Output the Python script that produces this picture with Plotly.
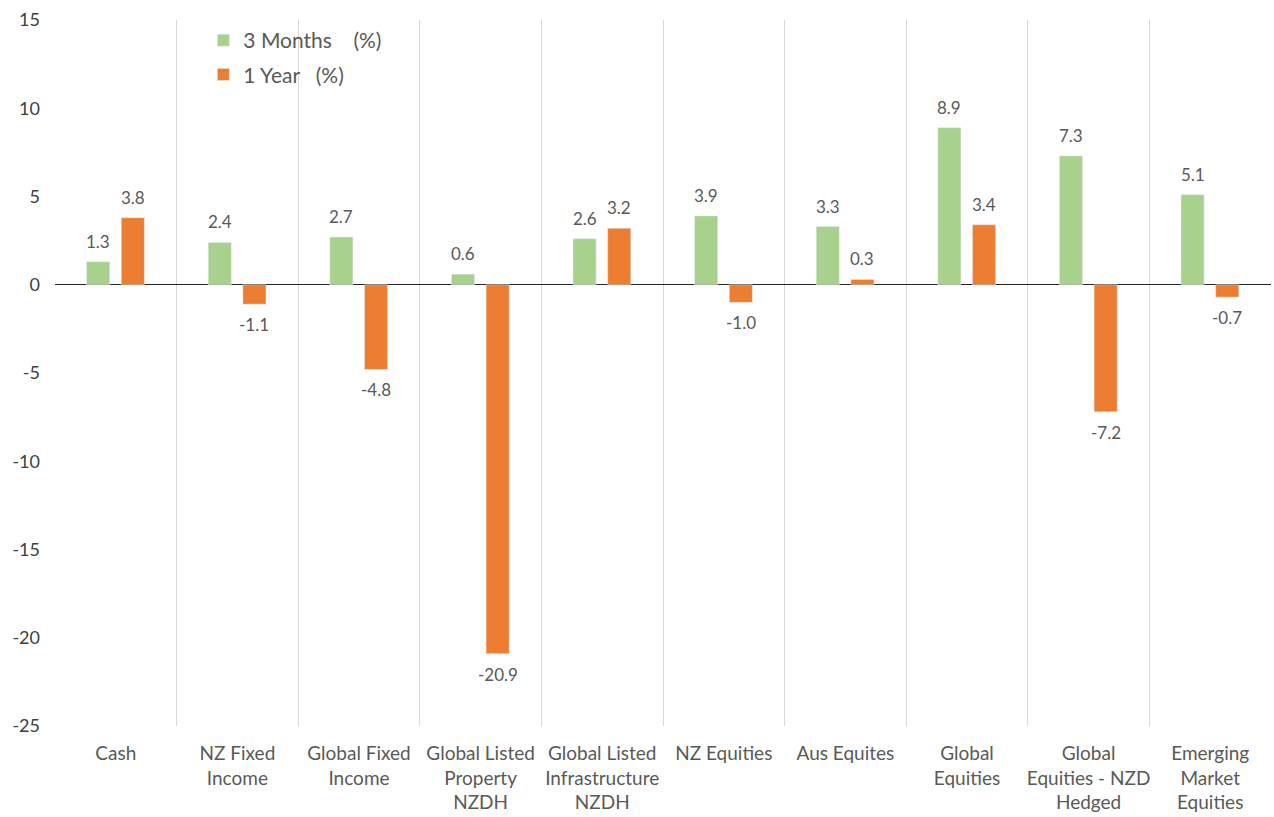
import plotly.graph_objects as go

categories = ["Cash", "NZ Fixed<br>Income", "Global Fixed<br>Income",
              "Global Listed<br>Property<br>NZDH", "Global Listed<br>Infrastructure<br>NZDH",
              "NZ Equities", "Aus Equites", "Global<br>Equities",
              "Global<br>Equities - NZD<br>Hedged", "Emerging<br>Market<br>Equities"]
three_months = [1.3, 2.4, 2.7, 0.6, 2.6, 3.9, 3.3, 8.9, 7.3, 5.1]
one_year = [3.8, -1.1, -4.8, -20.9, 3.2, -1.0, 0.3, 3.4, -7.2, -0.7]
series_names = ["3 Months\u00a0\u00a0\u00a0\u00a0(%)", "1 Year\u00a0\u00a0\u00a0(%)"]
y_ticks = [15, 10, 5, 0, -5, -10, -15, -20, -25]
y_tick_text = ["15", "10", "5", "0", "-5", "-10", "-15", "-20", "-25"]

GREEN = "#A9D18E"
ORANGE = "#ED7D31"
BAR_W = 0.19
OFFSETS = [-0.24, 0.045]

fig = go.Figure()
for name, vals, col, off, grp in [(series_names[0], three_months, GREEN, OFFSETS[0], "a"),
                                  (series_names[1], one_year, ORANGE, OFFSETS[1], "b")]:
    fig.add_trace(go.Bar(x=categories, y=vals, name=name, marker_color=col,
                         width=BAR_W, offset=off, legendgroup=grp))
    for i, v in enumerate(vals):
        fig.add_annotation(x=i + off + BAR_W / 2, y=v, xref="x", yref="y",
                           text=f"{v:.1f}", showarrow=False,
                           yanchor="bottom" if v >= 0 else "top",
                           yshift=8 if v >= 0 else -8,
                           font=dict(family="Lato", size=17, color="#595959"))

fig.update_layout(
    width=1274, height=817,
    margin=dict(l=55, r=3, t=20, b=91),
    paper_bgcolor="white", plot_bgcolor="white",
    barmode="group",
    font=dict(family="Lato", color="#595959"),
    showlegend=True,
    legend=dict(x=0.122, y=1.0, xanchor="left", yanchor="top",
                font=dict(family="Lato", size=21, color="#595959"),
                bgcolor="rgba(0,0,0,0)", tracegroupgap=4, traceorder="grouped"),
    xaxis=dict(type="category", tickson="boundaries", showgrid=True,
               gridcolor="#D9D9D9", gridwidth=1, ticks="", showline=False,
               tickangle=0, automargin=False, ticklabelstandoff=14,
               tickfont=dict(family="Lato", size=19, color="#595959"),
               range=[-0.5, len(categories) - 0.5]),
    yaxis=dict(range=[-25, 15], tickvals=y_ticks, ticktext=y_tick_text, showgrid=False,
               zeroline=True, zerolinecolor="#262626", zerolinewidth=1.3,
               tickfont=dict(family="Lato", size=18, color="#404040"),
               automargin=False,
               ticklabelstandoff=14, showline=False, ticks=""),
)

fig.write_html("out.html")
